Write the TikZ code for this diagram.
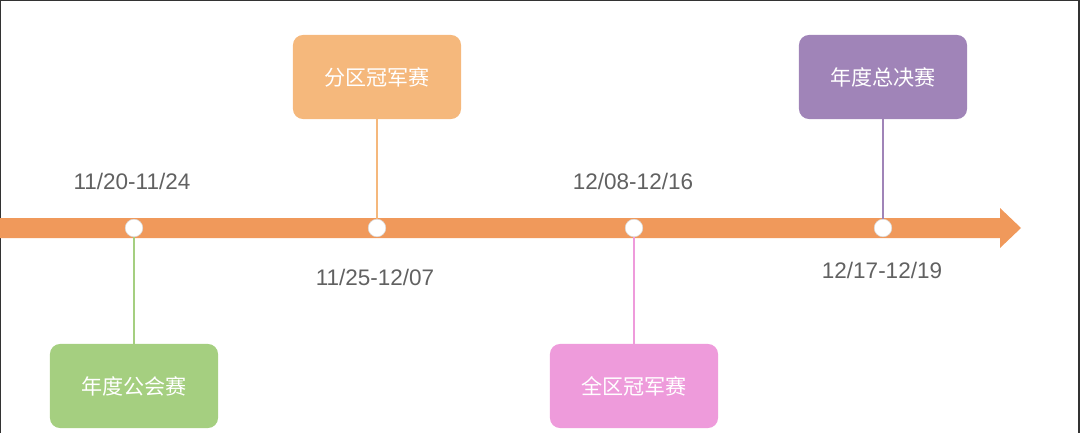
\documentclass[tikz,border=0pt]{standalone}
\usepackage{fontspec}
\setmainfont{Liberation Sans}
\newfontfamily\cjk{Noto Sans CJK SC}
\definecolor{axisO}{HTML}{F0995B}
\definecolor{stageG}{HTML}{A5CF80}
\definecolor{stageO}{HTML}{F5B87C}
\definecolor{stageP}{HTML}{EE9BDB}
\definecolor{stageV}{HTML}{A084B8}
\begin{document}
\begin{tikzpicture}[x=0.025cm,y=-0.025cm,stage/.style={shape=rectangle,rounded corners=0.25cm,minimum width=4.2cm,minimum height=2.1cm,text=white,font=\cjk\fontsize{15}{18}\selectfont},date/.style={text=black!62,font=\fontsize{16}{19}\selectfont},dot/.style={shape=circle,fill=white,draw=black!15,minimum size=0.44cm,inner sep=0pt},link/.style={line width=1.4pt}]
\def\ya{228};
\def\yt{77};
\def\yb{386};

\useasboundingbox (0,0) rectangle (1080,433);
\draw[black!80,line width=1.2pt] (0.6,433) -- (0.6,0.6) -- (1078.8,0.6) -- (1078.8,433);

% axis
\fill[axisO] (0,\ya-10) -- (1000,\ya-10) -- (1000,\ya-20) -- (1021,\ya) -- (1000,\ya+20) -- (1000,\ya+10) -- (0,\ya+10) -- cycle;

\node[dot] (d1) at (134,\ya) {};
\node[dot] (d2) at (377,\ya) {};
\node[dot] (d3) at (634,\ya) {};
\node[dot] (d4) at (883,\ya) {};

\node[stage,fill=stageG] (s1) at (134,\yb) {年度公会赛};
\node[date] (t1) at (132,181) {11/20-11/24};
\draw[link,stageG] (d1.south) -- (s1.north);

\node[stage,fill=stageO] (s2) at (377,\yt) {分区冠军赛};
\node[date] (t2) at (375,277) {11/25-12/07};
\draw[link,stageO] (s2.south) -- (d2.north);

\node[stage,fill=stageP] (s3) at (634,\yb) {全区冠军赛};
\node[date] (t3) at (633,181) {12/08-12/16};
\draw[link,stageP] (d3.south) -- (s3.north);

\node[stage,fill=stageV] (s4) at (883,\yt) {年度总决赛};
\node[date] (t4) at (882,270) {12/17-12/19};
\draw[link,stageV] (s4.south) -- (d4.north);
\end{tikzpicture}
\end{document}
